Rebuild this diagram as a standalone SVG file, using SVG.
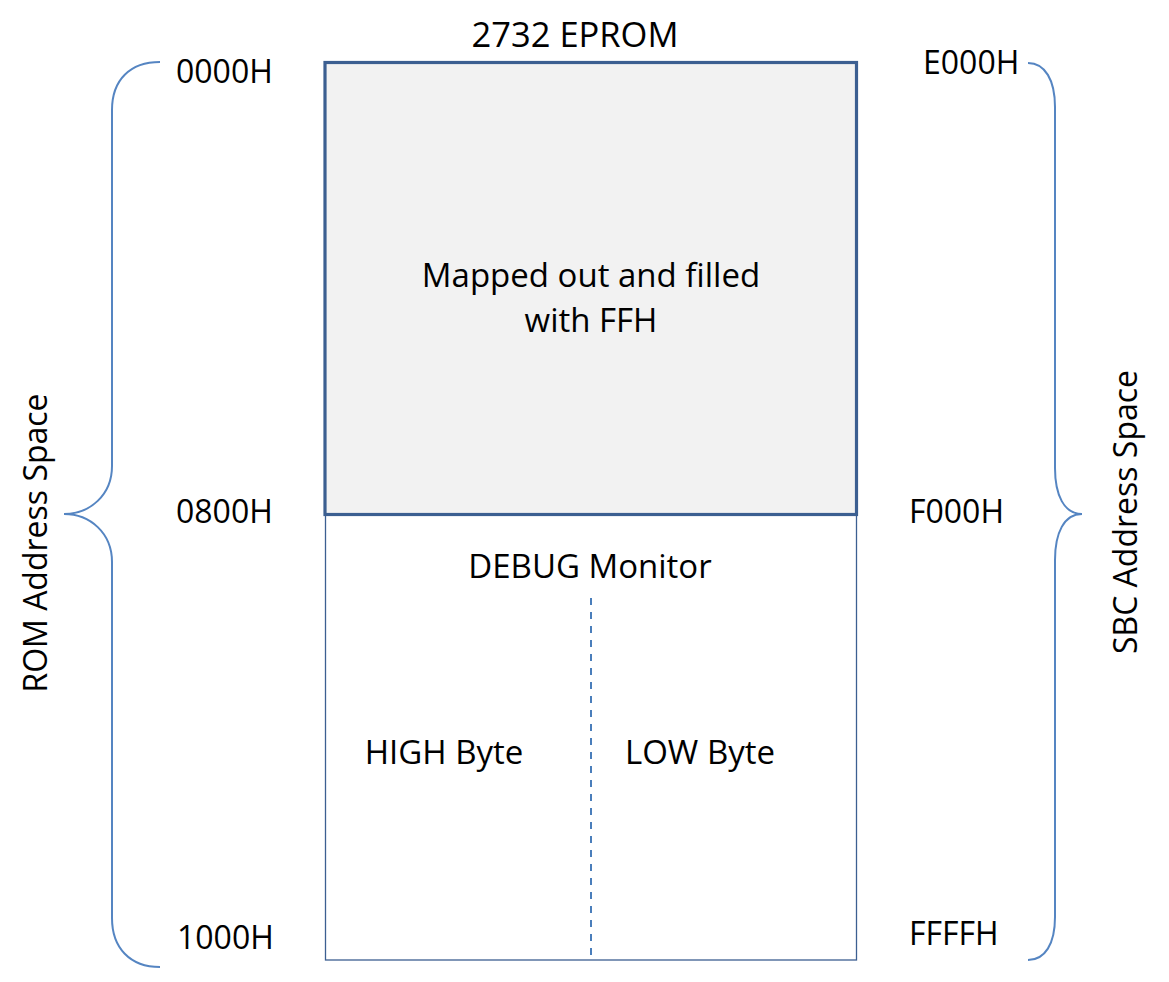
<svg xmlns="http://www.w3.org/2000/svg" width="1169" height="982" viewBox="0 0 1169 982">
<style>
text{font-family:"Open Sans","Liberation Sans",sans-serif;font-size:32px;fill:#000;}
.c{text-anchor:middle;}
.m{font-size:33px;}
.t{font-size:34.5px;}
.brace{fill:none;stroke:#5585c2;stroke-width:2;}
.top{fill:#f2f2f2;stroke:#3c5f91;stroke-width:3.2;}
.bot{fill:#fff;stroke:#3c5f91;stroke-width:1.3;}
.dash{stroke:#4a7ebb;stroke-width:2;stroke-dasharray:7 7;fill:none;}
</style>
<rect width="1169" height="982" fill="#fff"/>
<g id="debug-monitor">
<rect class="bot" x="325.5" y="514.5" width="531" height="445.5"/>
<text class="c m" x="590" y="578">DEBUG Monitor</text>
</g>
<g id="high-byte"><text class="c m" x="444" y="764">HIGH Byte</text></g>
<g id="low-byte"><text class="c m" x="700" y="764">LOW Byte</text></g>
<g id="mapped-out">
<rect class="top" x="325" y="62.5" width="531.5" height="452"/>
<text class="c m" x="591" y="287">Mapped out and filled</text>
<text class="c m" x="591" y="332">with FFH</text>
</g>
<g id="title"><text class="c t" x="575" y="47">2732 EPROM</text></g>
<g id="connectors">
<line class="dash" x1="591" y1="598" x2="591" y2="960"/>
<path class="brace" d="M160,62 C130,62 112,80 112,110 L112,466 C112,495 90,514 64,514 C90,514 112,533 112,562 L112,918 C112,948 130,967 160,967"/>
<path class="brace" d="M1028,63 C1045,63 1055,80 1055,107 L1055,468 C1055,495 1064,514 1082,514 C1064,514 1055,533 1055,560 L1055,917 C1055,944 1045,960 1028,960"/>
</g>
<g id="rom-labels">
<text x="176" y="83">0000H</text>
<text x="176" y="523">0800H</text>
<text x="177" y="949">1000H</text>
</g>
<g id="sbc-labels">
<text x="923" y="74">E000H</text>
<text x="909" y="523">F000H</text>
<text x="909" y="945">FFFFH</text>
</g>
<g id="rom-space"><text class="c" transform="translate(47,543) rotate(-90)">ROM Address Space</text></g>
<g id="sbc-space"><text class="c" transform="translate(1137,512) rotate(-90)">SBC Address Space</text></g>
</svg>
